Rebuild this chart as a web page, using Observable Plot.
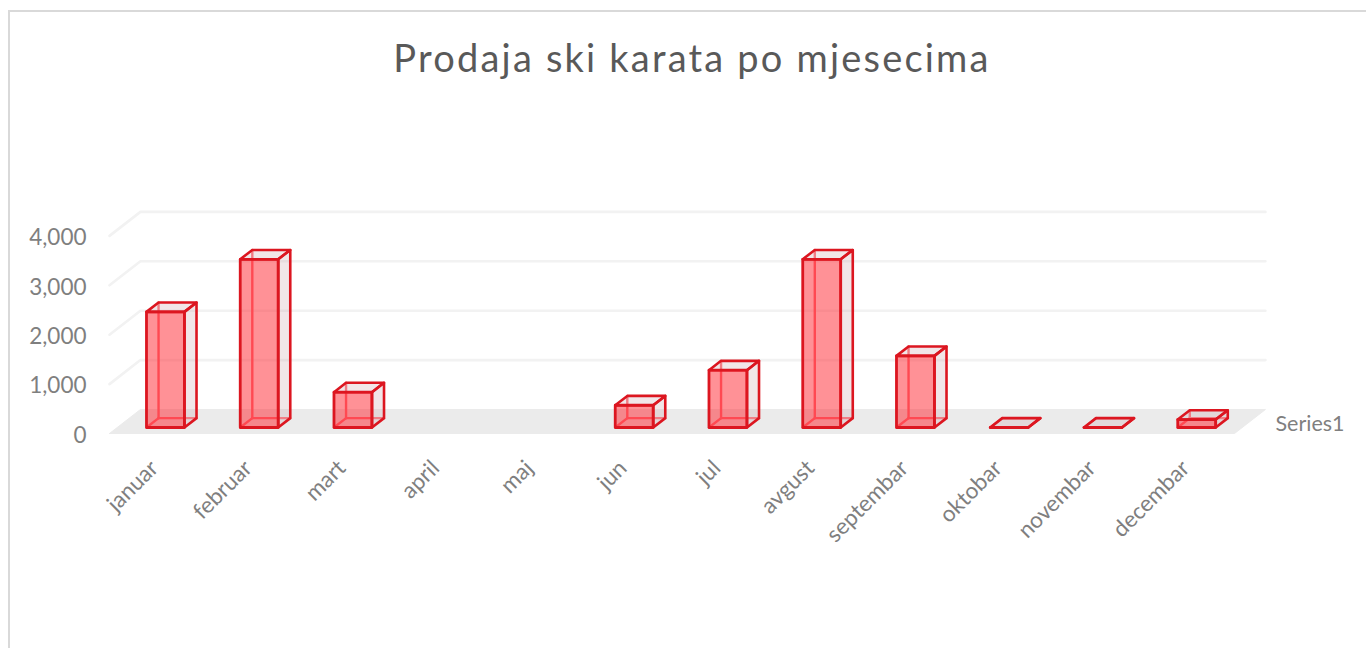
<!DOCTYPE html>
<html>
<head>
<meta charset="utf-8">
<script src="https://cdn.jsdelivr.net/npm/d3@7"></script>
<script src="https://cdn.jsdelivr.net/npm/@observablehq/plot@0.6"></script>
<style>
  html, body { margin: 0; padding: 0; background: #fff; overflow: hidden; }
  #frame { margin: 10px 0 0 8px; width: 1358px; height: 638px; border-top: 2px solid #d9d9d9; border-left: 2px solid #d9d9d9; box-sizing: border-box; }
  #title { margin: 0 0 0 -10px; width: 1366px; height: 76px; padding-left: 18px; box-sizing: border-box; text-align: center;
           font: 400 38px/90px Lato, sans-serif; letter-spacing: 2.2px; color: #595959; white-space: nowrap; }
  #chart { margin-left: -10px; height: 560px; }
  svg { display: block; }
</style>
</head>
<body>
<div id="frame"><div id="title">Prodaja ski karata po mjesecima</div><div id="chart"></div></div>
<script>
const months = ["januar","februar","mart","april","maj","jun","jul","avgust","septembar","oktobar","novembar","decembar"];
const sales = [2340,3405,715,null,null,450,1160,3405,1450,0,0,160];
const yTicks = [0,1000,2000,3000,4000];
const seriesName = ["Series1"];

// Oblique projection of the chart's depth axis, in data units of the x and y scales
const depthX = 0.33, depthY = 486;
const project = (slot, value, depth) => ({x: slot + depth * depthX, y: value + depth * depthY});
const barStart = 0.312, barWidth = 0.405, depthFront = 0.25, depthBack = 0.64;

function poly(id, pts) {
  return [...pts, pts[0]].map(([s, v, d]) => ({id, ...project(s, v, d)}));
}
const faces = {hidden: [], shade: [], front: []};
const hiddenEdges = [];
sales.forEach((v, i) => {
  if (v == null) return;
  const a = i + barStart, b = a + barWidth, f = depthFront, k = depthBack;
  faces.shade.push(...poly(`top${i}`, [[a,v,f],[b,v,f],[b,v,k],[a,v,k]]));
  faces.shade.push(...poly(`side${i}`, [[b,0,f],[b,0,k],[b,v,k],[b,v,f]]));
  faces.front.push(...poly(`front${i}`, [[a,0,f],[b,0,f],[b,v,f],[a,v,f]]));
  for (const [id, p, q] of [[`h1${i}`,[a,0,k],[a,v,k]],[`h2${i}`,[a,0,k],[b,0,k]],[`h3${i}`,[a,0,f],[a,0,k]]]) {
    hiddenEdges.push({id, ...project(...p)}, {id, ...project(...q)});
  }
});
const floor = poly("floor", [[0,0,0],[12,0,0],[12,0,1],[0,0,1]]);
const grid = yTicks.slice(1).flatMap(t => [
  {id: t, ...project(0, t, 0)}, {id: t, ...project(0, t, 1)}, {id: t, ...project(12, t, 1)}
]);
const red = "#dc1620";
const chart = Plot.plot({
  width: 1366, height: 560,
  marginLeft: 109, marginRight: 132, marginTop: 147.4, marginBottom: 215,
  x: {domain: [0, 12], axis: null},
  y: {domain: [0, 4000], axis: null},
  style: {background: "transparent", fontFamily: "Lato, sans-serif", fontSize: "21px", overflow: "visible"},
  marks: [
    Plot.line(floor, {x: "x", y: "y", z: "id", fill: "#ebebeb", stroke: "#ebebeb", strokeWidth: 1}),
    Plot.line(grid, {x: "x", y: "y", z: "id", stroke: "#f2f2f2", strokeWidth: 2.6, strokeLinejoin: "round"}),
    Plot.line(hiddenEdges, {x: "x", y: "y", z: "id", stroke: "#ff6e76", strokeWidth: 2.4}),
    Plot.line(faces.shade, {x: "x", y: "y", z: "id", fill: "rgb(205,165,172)", fillOpacity: 0.28, stroke: red, strokeWidth: 2.6, strokeLinejoin: "round"}),
    Plot.line(faces.front, {x: "x", y: "y", z: "id", fill: "rgb(255,35,45)", fillOpacity: 0.5, stroke: red, strokeWidth: 2.8, strokeLinejoin: "round"}),
    Plot.axisY({ticks: yTicks, tickFormat: d3.format(","), tickSize: 0, tickPadding: 23, dy: 2, color: "#7f7f7f", label: null, fontSize: 22.5}),
    Plot.axisX({ticks: months.map((_, i) => i + 0.5), tickFormat: d => months[Math.floor(d)], tickSize: 0, tickPadding: 20, tickRotate: -45, dx: -2, dy: 11, color: "#7f7f7f", label: null, fontSize: 22.5}),
    Plot.text(seriesName, {x: () => 12, y: () => 0, text: d => d, dx: 41, dy: -9, textAnchor: "start", fill: "#7f7f7f", fontSize: 21.5})
  ]
});
document.getElementById("chart").append(chart);
</script>
</body>
</html>
